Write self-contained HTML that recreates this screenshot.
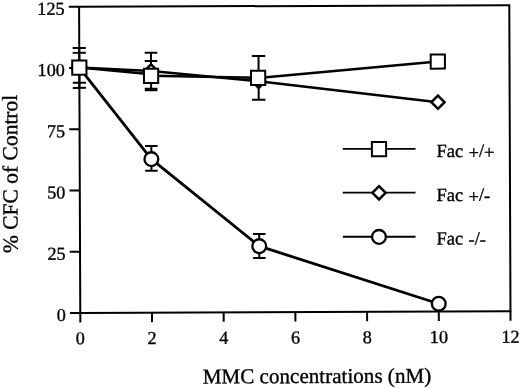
<!DOCTYPE html>
<html><head><meta charset="utf-8"><title>CFC chart</title>
<style>
html,body{margin:0;padding:0;background:#fff;width:520px;height:388px;overflow:hidden}
svg{display:block}
text{font-family:"Liberation Serif","Times New Roman",serif;fill:#000;stroke:#000;stroke-width:0.35px}
.tl{font-size:18.2px}
.tt{font-size:21.1px}
.yt{font-size:21.5px}
.lg{font-size:18.5px;word-spacing:0.8px}
</style></head><body>
<svg width="520" height="388" viewBox="0 0 520 388">
<rect width="520" height="388" fill="#fff"/>
<g transform="rotate(-0.22 79.1 6.8)">
<rect x="79.10" y="6.80" width="430.20" height="306.20" fill="none" stroke="#000" stroke-width="2"/>
<line x1="68.8" y1="313.00" x2="79.10" y2="313.00" stroke="#000" stroke-width="2"/>
<line x1="68.8" y1="251.76" x2="79.10" y2="251.76" stroke="#000" stroke-width="2"/>
<line x1="68.8" y1="190.52" x2="79.10" y2="190.52" stroke="#000" stroke-width="2"/>
<line x1="68.8" y1="129.28" x2="79.10" y2="129.28" stroke="#000" stroke-width="2"/>
<line x1="68.8" y1="68.04" x2="79.10" y2="68.04" stroke="#000" stroke-width="2"/>
<line x1="68.8" y1="6.80" x2="79.10" y2="6.80" stroke="#000" stroke-width="2"/>
<line x1="79.10" y1="313.00" x2="79.10" y2="322.4" stroke="#000" stroke-width="2"/>
<line x1="150.80" y1="313.00" x2="150.80" y2="322.4" stroke="#000" stroke-width="2"/>
<line x1="222.50" y1="313.00" x2="222.50" y2="322.4" stroke="#000" stroke-width="2"/>
<line x1="294.20" y1="313.00" x2="294.20" y2="322.4" stroke="#000" stroke-width="2"/>
<line x1="365.90" y1="313.00" x2="365.90" y2="322.4" stroke="#000" stroke-width="2"/>
<line x1="437.60" y1="313.00" x2="437.60" y2="322.4" stroke="#000" stroke-width="2"/>
<line x1="509.30" y1="313.00" x2="509.30" y2="322.4" stroke="#000" stroke-width="2"/>
<text class="tl" x="64.6" y="320.80" text-anchor="end">0</text>
<text class="tl" x="64.6" y="259.56" text-anchor="end">25</text>
<text class="tl" x="64.6" y="198.32" text-anchor="end">50</text>
<text class="tl" x="64.6" y="137.08" text-anchor="end">75</text>
<text class="tl" x="64.6" y="75.84" text-anchor="end">100</text>
<text class="tl" x="64.6" y="14.60" text-anchor="end">125</text>
<text class="tl" x="79.10" y="344.3" text-anchor="middle">0</text>
<text class="tl" x="150.80" y="344.3" text-anchor="middle">2</text>
<text class="tl" x="222.50" y="344.3" text-anchor="middle">4</text>
<text class="tl" x="294.20" y="344.3" text-anchor="middle">6</text>
<text class="tl" x="365.90" y="344.3" text-anchor="middle">8</text>
<text class="tl" x="437.60" y="344.3" text-anchor="middle">10</text>
<text class="tl" x="509.30" y="344.3" text-anchor="middle">12</text>
<text class="tt" x="315.55" y="383.91" text-anchor="middle">MMC concentrations (nM)</text>
<text class="yt" x="0" y="0" text-anchor="middle" transform="translate(16.76 173.66) rotate(-90)">% CFC of Control</text>
<polyline points="79.10,67.55 150.80,159.41 258.35,246.86 437.60,305.09" fill="none" stroke="#000" stroke-width="2.8" stroke-linejoin="round"/>
<polyline points="79.10,67.55 150.80,71.22 258.35,82.00 437.60,103.56" fill="none" stroke="#000" stroke-width="2.5" stroke-linejoin="round"/>
<polyline points="79.10,67.55 150.80,74.41" fill="none" stroke="#000" stroke-width="2.5"/>
<polyline points="150.80,76.12 257.85,78.57 437.60,62.90" fill="none" stroke="#000" stroke-width="2.5" stroke-linejoin="round"/>
<line x1="79.10" y1="47.95" x2="79.10" y2="87.88" stroke="#000" stroke-width="2"/>
<line x1="72.50" y1="47.95" x2="85.70" y2="47.95" stroke="#000" stroke-width="2"/>
<line x1="72.50" y1="52.85" x2="85.70" y2="52.85" stroke="#000" stroke-width="2"/>
<line x1="72.50" y1="82.74" x2="85.70" y2="82.74" stroke="#000" stroke-width="2"/>
<line x1="72.50" y1="87.88" x2="85.70" y2="87.88" stroke="#000" stroke-width="2"/>
<line x1="150.80" y1="53.10" x2="150.80" y2="90.58" stroke="#000" stroke-width="2"/>
<line x1="144.50" y1="53.10" x2="157.10" y2="53.10" stroke="#000" stroke-width="2"/>
<line x1="144.50" y1="61.18" x2="157.10" y2="61.18" stroke="#000" stroke-width="2"/>
<line x1="144.50" y1="89.11" x2="157.10" y2="89.11" stroke="#000" stroke-width="2"/>
<line x1="144.50" y1="90.58" x2="157.10" y2="90.58" stroke="#000" stroke-width="2"/>
<line x1="258.35" y1="56.77" x2="258.35" y2="100.50" stroke="#000" stroke-width="2"/>
<line x1="251.65" y1="56.77" x2="265.05" y2="56.77" stroke="#000" stroke-width="2"/>
<line x1="251.65" y1="100.50" x2="265.05" y2="100.50" stroke="#000" stroke-width="2"/>
<line x1="150.80" y1="146.28" x2="150.80" y2="170.97" stroke="#000" stroke-width="2"/>
<line x1="144.55" y1="146.28" x2="157.05" y2="146.28" stroke="#000" stroke-width="2"/>
<line x1="144.55" y1="170.97" x2="157.05" y2="170.97" stroke="#000" stroke-width="2"/>
<line x1="258.35" y1="234.69" x2="258.35" y2="258.69" stroke="#000" stroke-width="2"/>
<line x1="252.15" y1="234.69" x2="264.55" y2="234.69" stroke="#000" stroke-width="2"/>
<line x1="252.15" y1="258.69" x2="264.55" y2="258.69" stroke="#000" stroke-width="2"/>
<circle cx="79.10" cy="67.55" r="6.9" fill="#fff" stroke="#000" stroke-width="2.3"/>
<circle cx="150.80" cy="159.41" r="6.9" fill="#fff" stroke="#000" stroke-width="2.3"/>
<circle cx="258.35" cy="246.86" r="6.9" fill="#fff" stroke="#000" stroke-width="2.3"/>
<circle cx="437.60" cy="305.09" r="6.9" fill="#fff" stroke="#000" stroke-width="2.3"/>
<path d="M79.10 60.95L85.70 67.55L79.10 74.15L72.50 67.55Z" fill="#fff" stroke="#000" stroke-width="2.5" stroke-linejoin="miter"/>
<path d="M150.80 64.62L157.40 71.22L150.80 77.82L144.20 71.22Z" fill="#fff" stroke="#000" stroke-width="2.5" stroke-linejoin="miter"/>
<path d="M258.35 75.40L264.95 82.00L258.35 88.60L251.75 82.00Z" fill="#fff" stroke="#000" stroke-width="2.5" stroke-linejoin="miter"/>
<path d="M437.60 96.96L444.20 103.56L437.60 110.16L431.00 103.56Z" fill="#fff" stroke="#000" stroke-width="2.5" stroke-linejoin="miter"/>
<rect x="72.00" y="60.45" width="14.20" height="14.20" fill="#fff" stroke="#000" stroke-width="2"/>
<rect x="143.70" y="69.02" width="14.20" height="14.20" fill="#fff" stroke="#000" stroke-width="2"/>
<rect x="250.75" y="71.47" width="14.20" height="14.20" fill="#fff" stroke="#000" stroke-width="2"/>
<rect x="430.50" y="55.80" width="14.20" height="14.20" fill="#fff" stroke="#000" stroke-width="2"/>
<line x1="342.25" y1="149.91" x2="414.95" y2="150.19" stroke="#000" stroke-width="1.9"/>
<rect x="371.35" y="143.15" width="14.20" height="14.20" fill="#fff" stroke="#000" stroke-width="2"/>
<text class="lg" x="435.82" y="158.37">Fac <tspan dy="1.8">+</tspan><tspan dy="-1.8">/</tspan><tspan dy="1.8">+</tspan></text>
<line x1="342.08" y1="193.61" x2="414.78" y2="193.89" stroke="#000" stroke-width="1.9"/>
<path d="M378.28 187.35L384.88 193.95L378.28 200.55L371.68 193.95Z" fill="#fff" stroke="#000" stroke-width="2.5" stroke-linejoin="miter"/>
<text class="lg" x="435.65" y="202.37">Fac <tspan dy="1.8">+</tspan><tspan dy="-1.8">/</tspan><tspan dy="1.0">-</tspan></text>
<line x1="341.92" y1="237.71" x2="414.61" y2="237.99" stroke="#000" stroke-width="1.9"/>
<circle cx="378.11" cy="238.05" r="6.9" fill="#fff" stroke="#000" stroke-width="2.3"/>
<text class="lg" x="435.48" y="245.97">Fac <tspan dy="1.0">-</tspan><tspan dy="-1.0">/</tspan><tspan dy="1.0">-</tspan></text>
</g>
</svg>
</body></html>
